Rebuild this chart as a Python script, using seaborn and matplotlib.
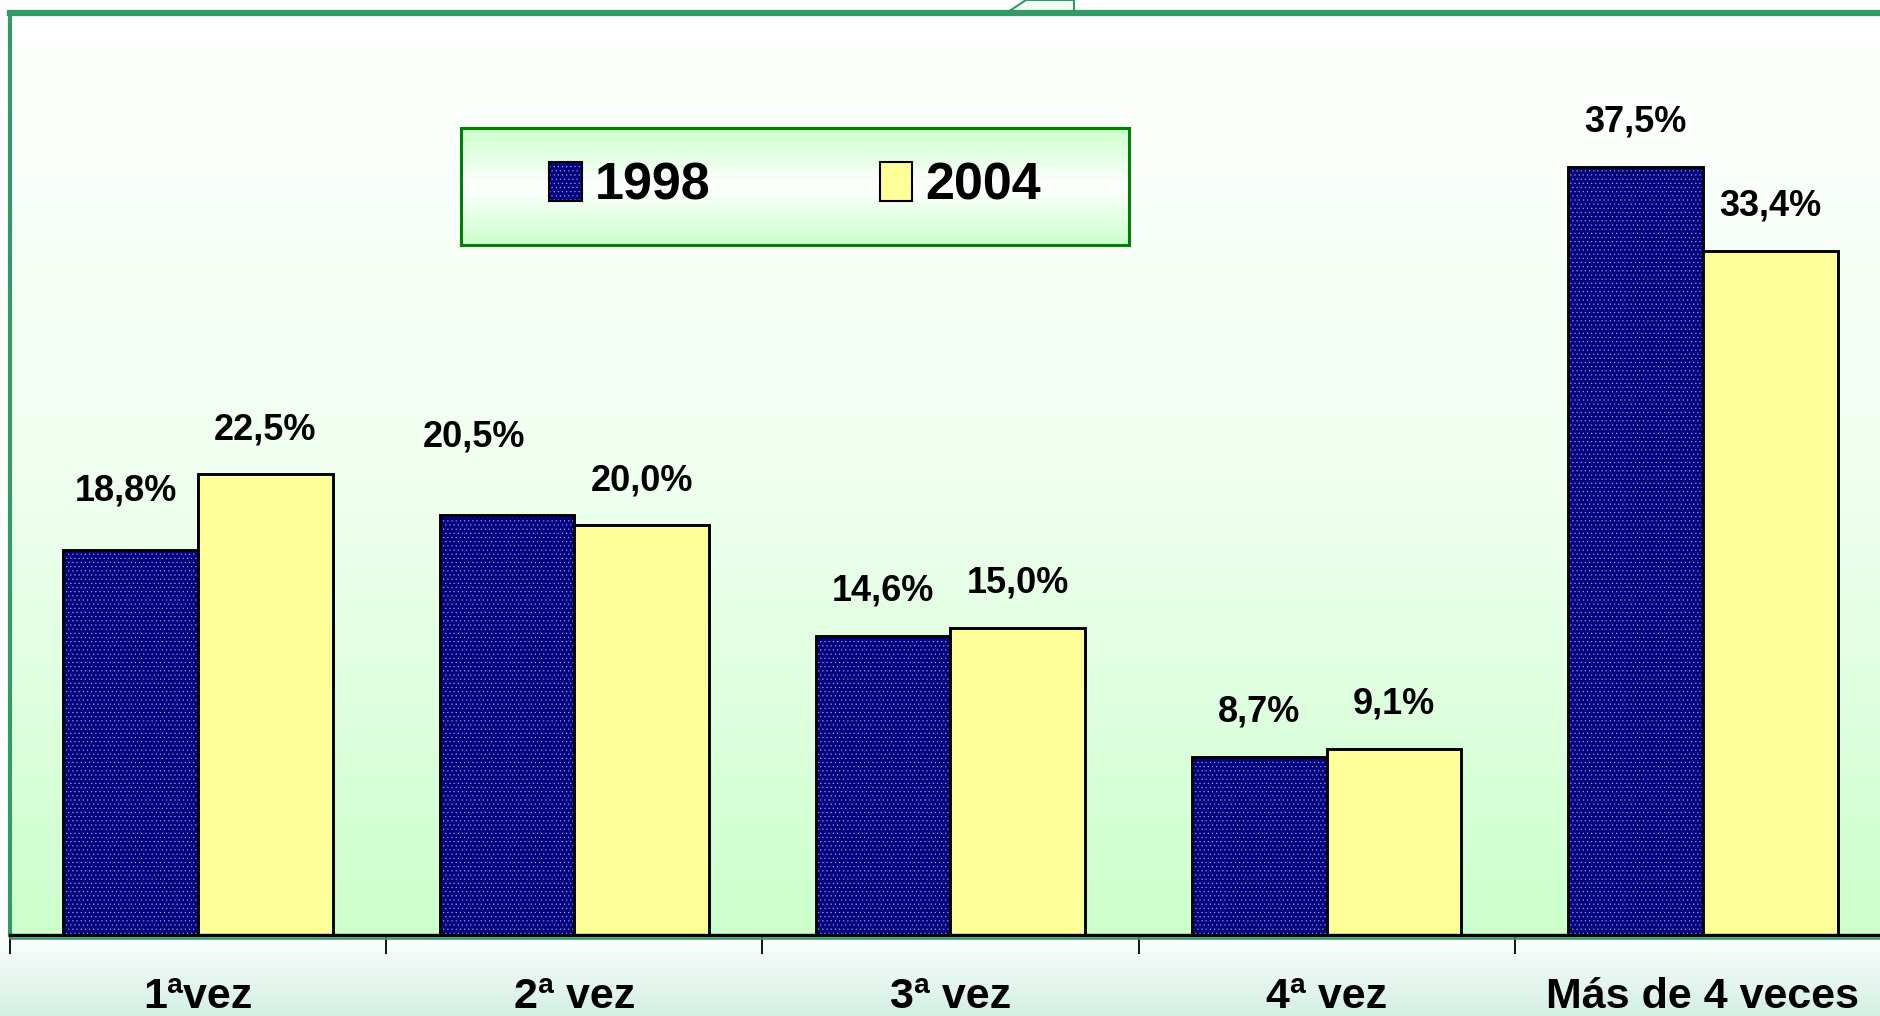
import numpy as np
import pandas as pd
import matplotlib
matplotlib.use('Agg')
import matplotlib.pyplot as plt
import seaborn as sns
from matplotlib.patches import Patch, Polygon
from matplotlib.lines import Line2D
from matplotlib.colors import LinearSegmentedColormap

# Datos
categorias = ['1ªvez', '2ª vez', '3ª vez', '4ª vez', 'Más de 4 veces']
anios = ['1998', '2004']
valores_1998 = [18.8, 20.5, 14.6, 8.7, 37.5]
valores_2004 = [22.5, 20.0, 15.0, 9.1, 33.4]

df = pd.DataFrame({
    'vez': categorias * 2,
    'anio': [anios[0]] * len(categorias) + [anios[1]] * len(categorias),
    'pct': valores_1998 + valores_2004,
})

sns.set_style('white')
plt.rcParams['font.family'] = ['Liberation Sans', 'DejaVu Sans']
plt.rcParams['font.weight'] = 'bold'
plt.rcParams['text.color'] = 'black'
plt.rcParams['xtick.color'] = 'black'
plt.rcParams['hatch.linewidth'] = 0.4

AZUL = '#000080'
AMARILLO = '#ffff99'
VERDE = '#339966'

W, H = 1881, 1016
fig = plt.figure(figsize=(W / 100, H / 100), dpi=100)
fig.patch.set_facecolor('white')

# franja inferior con degradado
fondo = fig.add_axes([0, 0, 1, (H - 935) / H])
fondo.imshow(np.linspace(0, 1, 100).reshape(-1, 1), aspect='auto', extent=[0, 1, 0, 1],
             cmap=LinearSegmentedColormap.from_list('f', ['#fdfefd', '#d3f0e4']), origin='upper')
fondo.axis('off')

# ejes principales
x0 = 10 / W
y0 = (H - 935) / H
y1 = 1 - 13 / H
ax = fig.add_axes([x0, y0, 1 - x0, y1 - y0])
paso = 376.2
xmax = -0.5 + (W - 10) / paso

sns.barplot(data=df, x='vez', y='pct', hue='anio', hue_order=anios,
            palette=[AZUL, AMARILLO], saturation=1, width=0.716, edgecolor='black',
            linewidth=2.1, legend=False, ax=ax, zorder=2)

ax.imshow(np.linspace(0, 1, 200).reshape(-1, 1), aspect='auto',
          extent=[-0.5, xmax, 0, 45], origin='upper', zorder=0,
          cmap=LinearSegmentedColormap.from_list('g', ['#ffffff', '#f0fff0', '#ccffcc']))
ax.set_xlim(-0.5, xmax)
ax.set_ylim(0, 45)

# trama de puntos en las barras de 1998
n = len(categorias)
for p in ax.patches[:n]:
    p.set_hatch('....')
    p._hatch_color = (1, 1, 1, 0.55)

# etiquetas de valores
ajustes = {0: (-3.5, 10), 1: (-24, 24)}
for i, p in enumerate(ax.patches[:2 * n]):
    h = p.get_height()
    dx, dy = ajustes.get(i, (0, 0))
    ax.annotate(f'{h:.1f}'.replace('.', ',') + '%',
                (p.get_x() + p.get_width() / 2, h),
                xytext=(dx, 32 + dy), textcoords='offset points',
                ha='center', va='center', fontsize=26, fontweight='bold', color='black')

# ejes y marcas
ax.set_xlabel('')
ax.set_ylabel('')
ax.set_yticks([])
ax.set_xticks(range(n))
ax.set_xticklabels(categorias, fontsize=31, fontweight='bold', color='black')
ax.set_xticks(np.arange(-0.5, n - 0.5, 1), minor=True)
ax.tick_params(axis='x', which='major', bottom=False, length=0, pad=30)
ax.tick_params(axis='x', which='minor', bottom=True, length=14, width=1.3,
               color='black', direction='out')
ax.spines['bottom'].set_color('black')
ax.spines['bottom'].set_linewidth(2.4)
ax.spines['left'].set_color(VERDE)
ax.spines['left'].set_linewidth(3)
ax.spines['top'].set_color(VERDE)
ax.spines['top'].set_linewidth(4.5)
ax.spines['right'].set_visible(False)

# linea verde bajo el eje
yv = (H - 938) / H
fig.add_artist(Line2D([x0, 1], [yv, yv], color=VERDE, lw=1.8, transform=fig.transFigure))

# pestaña decorativa arriba
fig.add_artist(Polygon([(1008 / W, 1 - 12 / H), (1026 / W, 1.0), (1074 / W, 1.0), (1074 / W, 1 - 12 / H)],
                       closed=False, facecolor='#f4fff4', edgecolor=VERDE, lw=1.5,
                       transform=fig.transFigure, zorder=0))

# leyenda con caja degradada
lx0, lx1, ly0, ly1 = 461 / W, 1129 / W, 1 - 245 / H, 1 - 128 / H
cajaleg = fig.add_axes([lx0, ly0, lx1 - lx0, ly1 - ly0])
cajaleg.imshow(np.abs(np.linspace(-1, 1, 100)).reshape(-1, 1), aspect='auto', extent=[0, 1, 0, 1],
               cmap=LinearSegmentedColormap.from_list('l', ['#ffffff', '#ccffcc']))
cajaleg.set_xticks([])
cajaleg.set_yticks([])
for s in cajaleg.spines.values():
    s.set_color('#008000')
    s.set_linewidth(2.2)

manejadores = [Patch(facecolor=AZUL, edgecolor='black', hatch='....', label=anios[0]),
               Patch(facecolor=AMARILLO, edgecolor='black', label=anios[1])]
leg = cajaleg.legend(handles=manejadores, loc='center', ncol=2, frameon=False,
                     prop={'size': 37.5, 'weight': 'bold'}, handlelength=0.62,
                     handleheight=0.78, handletextpad=0.25, columnspacing=3.25)
leg.legend_handles[0]._hatch_color = (1, 1, 1, 0.55)
leg.legend_handles[0].set_linewidth(1.5)
leg.legend_handles[1].set_linewidth(1.5)
for t in leg.get_texts():
    t.set_color('black')

plt.savefig('out.png', dpi=100)
